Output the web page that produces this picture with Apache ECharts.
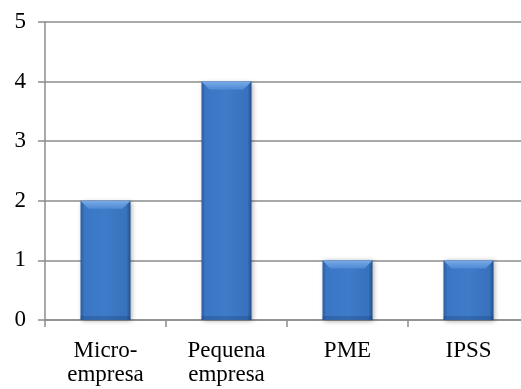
<!DOCTYPE html>
<html>
<head>
<meta charset="utf-8">
<script src="https://cdn.jsdelivr.net/npm/echarts@6/dist/echarts.min.js"></script>
<style>
  html, body { margin: 0; padding: 0; background: #fff; overflow: hidden; width: 521px; height: 389px; }
  /* plot area runs slightly past the right edge of the page */
  #chart { width: 530px; height: 389px; }
</style>
</head>
<body>
<div id="chart"></div>
<script>
// Companies by size category
const categories = ['Micro-\nempresa', 'Pequena\nempresa', 'PME', 'IPSS'];
const counts = [2, 4, 1, 1];
const yTicks = { min: 0, max: 5, interval: 1 };

const font = '"Liberation Serif", "Times New Roman", serif';
const gray = '#8c8c8c';
const BAR_W = 50;
const BEVEL = 8;

const chart = echarts.init(document.getElementById('chart'), null, { renderer: 'canvas' });

// Bevelled column: body with darker side edges, lighter chamfer on top
function renderBevelBar(params, api) {
  const idx = api.value(0);
  const top = api.coord([idx, api.value(1)]);
  const base = api.coord([idx, 0]);
  const x0 = top[0] - BAR_W / 2;
  const x1 = top[0] + BAR_W / 2;
  const y0 = top[1];
  const y1 = base[1];
  const b = Math.min(BEVEL, (y1 - y0) / 2);
  return {
    type: 'group',
    children: [
      {
        type: 'rect',
        shape: { x: x0, y: y0, width: BAR_W, height: y1 - y0 },
        style: {
          fill: new echarts.graphic.LinearGradient(0, 0, 1, 0, [
            { offset: 0, color: '#2a5da0' },
            { offset: 0.08, color: '#3a76c3' },
            { offset: 0.5, color: '#3e7bc9' },
            { offset: 0.92, color: '#3871bc' },
            { offset: 1, color: '#234f8c' }
          ]),
          shadowColor: 'rgba(0,0,0,0.35)',
          shadowBlur: 5,
          shadowOffsetX: 1,
          shadowOffsetY: 1
        }
      },
      {
        type: 'rect',
        shape: { x: x0, y: y1 - 4, width: BAR_W, height: 4 },
        style: { fill: 'rgba(20,50,100,0.25)' }
      },
      {
        type: 'polygon',
        shape: { points: [[x0, y0], [x1, y0], [x1 - b, y0 + b], [x0 + b, y0 + b]] },
        style: {
          fill: new echarts.graphic.LinearGradient(0, 0, 0, 1, [
            { offset: 0, color: '#78aae6' },
            { offset: 1, color: '#4f8ad5' }
          ])
        }
      }
    ]
  };
}

chart.setOption({
  animation: false,
  backgroundColor: '#ffffff',
  grid: { left: 45, top: 22, right: 1, bottom: 69, containLabel: false },
  xAxis: {
    type: 'category',
    data: categories,
    boundaryGap: true,
    axisLine: { show: true, lineStyle: { color: gray, width: 1.5 } },
    axisTick: { show: true, length: 7, alignWithLabel: false, lineStyle: { color: gray, width: 1.5 } },
    axisLabel: {
      interval: 0,
      margin: 19,
      fontFamily: font,
      fontSize: 23,
      lineHeight: 24,
      color: '#000'
    },
    splitLine: { show: false }
  },
  yAxis: {
    type: 'value',
    min: yTicks.min,
    max: yTicks.max,
    interval: yTicks.interval,
    axisLine: { show: true, lineStyle: { color: gray, width: 1.5 } },
    axisTick: { show: true, length: 7, lineStyle: { color: gray, width: 1.5 } },
    axisLabel: {
      margin: 19,
      fontFamily: font,
      fontSize: 23,
      color: '#000'
    },
    splitLine: { show: true, lineStyle: { color: gray, width: 1.5 } }
  },
  series: [{
    type: 'custom',
    renderItem: renderBevelBar,
    encode: { x: 0, y: 1 },
    data: counts.map((v, i) => [i, v])
  }]
});
</script>
</body>
</html>
